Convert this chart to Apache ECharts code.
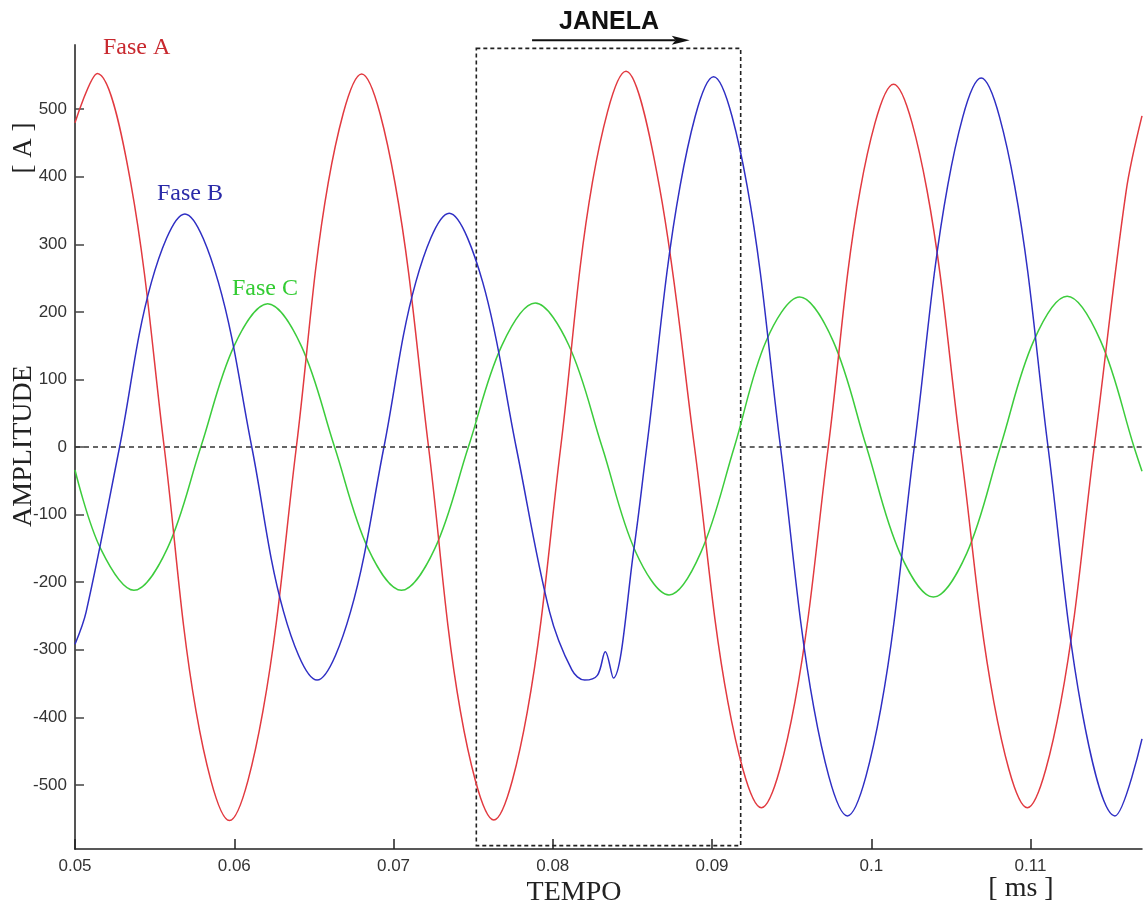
<!DOCTYPE html>
<html>
<head>
<meta charset="utf-8">
<script src="https://cdn.jsdelivr.net/npm/echarts@6/dist/echarts.min.js"></script>
<style>
html,body{margin:0;padding:0;background:#fff;}
#chart{width:1144px;height:907px;}
</style>
</head>
<body>
<div id="chart"></div>
<script>
// ---- data ----
const xTicks = [0.05, 0.06, 0.07, 0.08, 0.09, 0.1, 0.11];
const yTicks = [-500, -400, -300, -200, -100, 0, 100, 200, 300, 400, 500];

const faseA_t = [0.05, 0.0514, 0.0535, 0.0556, 0.0576, 0.0597, 0.0618, 0.0639, 0.0659, 0.068, 0.0701, 0.0722, 0.0742, 0.0763, 0.0784, 0.0805, 0.0825, 0.0846, 0.0867, 0.0889, 0.091, 0.0931, 0.0952, 0.0973, 0.0993, 0.1014, 0.1035, 0.1056, 0.1077, 0.1098, 0.1119, 0.114, 0.116, 0.117];
const faseA_v = [480, 553, 391, 0, -391, -553, -391, 0, 391, 552, 390, 0, -391, -552, -392, 0, 393, 556, 385, 0, -378, -534, -378, 0, 380, 537, 380, 0, -378, -534, -378, 0, 378, 490];

const faseB_t = [0.05, 0.0507, 0.0528, 0.0548, 0.0569, 0.059, 0.0611, 0.0631, 0.0652, 0.0673, 0.0694, 0.0714, 0.0735, 0.0756, 0.0777, 0.0798, 0.0812, 0.082, 0.0828, 0.0833, 0.0838, 0.0851, 0.0859, 0.088, 0.0901, 0.0922, 0.0943, 0.0964, 0.0985, 0.1006, 0.1027, 0.1048, 0.1069, 0.109, 0.1111, 0.1132, 0.1153, 0.117];
const faseB_v = [-292, -244, 0, 244, 345, 244, 0, -244, -345, -244, 0, 244, 346, 244, 0, -244, -330, -345, -338, -303, -342, -150, 0, 387, 548, 387, 0, -387, -546, -387, 0, 387, 546, 387, 0, -387, -546, -432];

const faseC_t = [0.05, 0.0516, 0.0537, 0.0558, 0.0579, 0.06, 0.0621, 0.0642, 0.0663, 0.0684, 0.0705, 0.0726, 0.0747, 0.0768, 0.0789, 0.081, 0.0831, 0.0852, 0.0873, 0.0893, 0.0914, 0.0934, 0.0955, 0.0976, 0.0997, 0.1018, 0.1039, 0.106, 0.1081, 0.1102, 0.1123, 0.1144, 0.1165, 0.117];
const faseC_v = [-34, -150, -212, -150, 0, 150, 212, 150, 0, -150, -212, -150, 0, 150, 213, 151, 0, -155, -219, -156, 0, 157, 222, 157, 0, -157, -222, -157, 0, 157, 223, 157, 0, -36];

// analysis window (JANELA) and its arrow
const janelaX = [0.0752, 0.0918];
const janelaY = [-590, 590];
const arrowX = [0.0787, 0.0886];
const arrowY = 602;
const xRange = [0.05, 0.117];
const yRange = [-595, 595];

function zip(t, v){ return t.map((x, i) => [x, v[i]]); }

const chart = echarts.init(document.getElementById('chart'));
const serif = 'Liberation Serif';
const sans = 'Liberation Sans';

const lineBase = {type:'line', showSymbol:false, smooth:0.35, animation:false};

chart.setOption({
  animation:false,
  backgroundColor:'#fff',
  grid:{left:75, right:2, top:45, bottom:58, outerBoundsMode:'none', containLabel:false},
  xAxis:{
    type:'value', min:xRange[0], max:xRange[1],
    axisLine:{onZero:false, lineStyle:{color:'#222', width:1.5}},
    axisTick:{inside:true, length:10, lineStyle:{color:'#222', width:1.5}, customValues:xTicks},
    axisLabel:{customValues:xTicks, color:'#333', fontFamily:sans, fontSize:17, margin:9},
    splitLine:{show:false}
  },
  yAxis:{
    type:'value', min:yRange[0], max:yRange[1],
    axisLine:{show:true, onZero:false, lineStyle:{color:'#555', width:2}},
    axisTick:{show:true, inside:true, length:9, lineStyle:{color:'#444', width:1.5}, customValues:yTicks},
    axisLabel:{customValues:yTicks, color:'#333', fontFamily:sans, fontSize:17, margin:8},
    splitLine:{show:false}
  },
  series:[
    Object.assign({}, lineBase, {
      name:'Fase A', data:zip(faseA_t, faseA_v),
      lineStyle:{color:'#e23a40', width:1.5}, z:3
    }),
    Object.assign({}, lineBase, {
      name:'Fase B', data:zip(faseB_t, faseB_v),
      lineStyle:{color:'#2f2fc4', width:1.5}, z:4
    }),
    Object.assign({}, lineBase, {
      name:'Fase C', data:zip(faseC_t, faseC_v), clip:false,
      lineStyle:{color:'#3ccc3c', width:1.5}, z:2,
      markLine:{
        silent:true, symbol:'none', animation:false,
        label:{show:false},
        data:[
          [{coord:[xRange[0], 0], lineStyle:{color:'#333', width:1.6, type:[5,4]}}, {coord:[janelaX[0], 0]}],
          [{coord:[janelaX[1], 0], lineStyle:{color:'#333', width:1.6, type:[5,4]}}, {coord:[xRange[1], 0]}]
        ]
      },
      markArea:{
        silent:true,
        itemStyle:{color:'rgba(0,0,0,0)', borderColor:'#222', borderWidth:1.6, borderType:[4,3]},
        data:[[{coord:[janelaX[0], janelaY[1]]}, {coord:[janelaX[1], janelaY[0]]}]]
      }
    })
  ],
  graphic:[
    {type:'text', left:103, top:36, style:{text:'Fase A', font:'24px "Liberation Serif"', fill:'#c8282e'}},
    {type:'text', left:157, top:182, style:{text:'Fase B', font:'24px "Liberation Serif"', fill:'#2a2aa8'}},
    {type:'text', left:232, top:277, style:{text:'Fase C', font:'24px "Liberation Serif"', fill:'#33cc33'}},
    {type:'text', x:24, y:148, rotation:Math.PI/2, style:{text:'[ A ]', font:'27px "Liberation Serif"', fill:'#222', align:'center', verticalAlign:'middle'}},
    {type:'text', x:24, y:446, rotation:Math.PI/2, style:{text:'AMPLITUDE', font:'28px "Liberation Serif"', fill:'#222', align:'center', verticalAlign:'middle'}},
    {type:'text', x:574, y:893, style:{text:'TEMPO', font:'28px "Liberation Serif"', fill:'#222', align:'center', verticalAlign:'middle'}},
    {type:'text', x:1021, y:889, style:{text:'[ ms ]', font:'28px "Liberation Serif"', fill:'#222', align:'center', verticalAlign:'middle'}},
    {type:'text', x:609, y:22, style:{text:'JANELA', font:'bold 25px "Liberation Sans"', fill:'#111', align:'center', verticalAlign:'middle'}}
  ]
});

// arrow above the window, placed through the chart's own scales
const p0 = chart.convertToPixel({gridIndex:0}, [arrowX[0], arrowY]);
const p1 = chart.convertToPixel({gridIndex:0}, [arrowX[1], arrowY]);
chart.setOption({
  graphic:[
    {type:'line', id:'arrowShaft', shape:{x1:p0[0], y1:p0[1], x2:p1[0]-14, y2:p1[1]}, style:{stroke:'#111', lineWidth:2}},
    {type:'polygon', id:'arrowHead', shape:{points:[[p1[0], p1[1]], [p1[0]-18, p1[1]-4.5], [p1[0]-14, p1[1]], [p1[0]-18, p1[1]+4.5]]}, style:{fill:'#111'}}
  ]
});
</script>
</body>
</html>
